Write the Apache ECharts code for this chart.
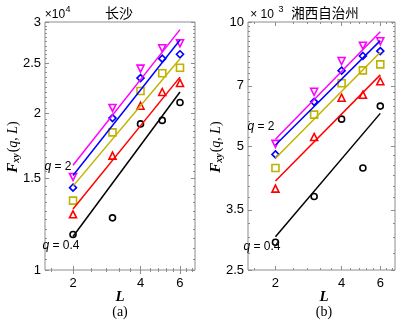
<!DOCTYPE html>
<html>
<head>
<meta charset="utf-8">
<script src="https://cdn.jsdelivr.net/npm/echarts@6/dist/echarts.min.js"></script>
<style>
  html, body { margin: 0; padding: 0; background: #fff; }
  #chart { width: 401px; height: 321px; }
</style>
</head>
<body>
<div id="chart"></div>
<script>
// L 取值
var scales = [2, 3, 4, 5, 6];

// (a) 长沙, 单位 x10^4
var csQ2 = [1.51, 2.05, 2.44, 2.67, 2.73];
var csQ16 = [1.44, 1.96, 2.34, 2.55, 2.60];
var csQ12 = [1.36, 1.84, 2.21, 2.39, 2.45];
var csQ08 = [1.28, 1.66, 2.07, 2.20, 2.29];
var csQ04 = [1.17, 1.26, 1.91, 1.94, 2.10];
// 拟合线 (L=2, L=6)
var csFit = [[1.59, 2.90], [1.52, 2.77], [1.45, 2.55], [1.31, 2.35], [1.16, 2.20]];

// (b) 湘西自治州, 单位 x10^3
var xxQ2 = [5.06, 6.77, 8.04, 8.76, 8.98];
var xxQ16 = [4.77, 6.40, 7.62, 8.27, 8.50];
var xxQ12 = [4.42, 5.96, 7.10, 7.63, 7.89];
var xxQ08 = [3.94, 5.26, 6.55, 6.66, 7.18];
var xxQ04 = [2.92, 3.77, 5.81, 4.42, 6.25];
var xxFit = [[5.19, 9.47], [5.03, 9.01], [4.67, 8.44], [4.11, 7.44], [3.01, 6.00]];

var fitEnds = [2, 6];

// 刻度
var xRange = [1.5, 7];
var xLabels = [2, 4, 6];
var csRange = [1, 3];
var csLabels = [1, 1.5, 2, 2.5, 3];
var xxRange = [2.5, 10];
var xxLabels = [2.5, 3.5, 5, 7, 10];

var colors = ['#ff00ff', '#0000ff', '#bfb300', '#ff0000', '#000000'];
var symbols = ['triangle', 'diamond', 'rect', 'triangle', 'circle'];
var rotates = [180, 0, 0, 0, 0];

function lg(v) { return Math.log(v) / Math.LN10; }
function steps(a, b, s) {
    var out = [];
    for (var v = a; v <= b + 1e-9; v += s) { out.push(lg(Math.round(v * 1000) / 1000)); }
    return out;
}
function fmt(v) { return String(Math.round(Math.pow(10, v) * 100) / 100); }

var panels = [
    { left: 45, width: 150, yr: csRange, yl: csLabels, ym: 0.05, data: [csQ2, csQ16, csQ12, csQ08, csQ04], fit: csFit },
    { left: 248, width: 147, yr: xxRange, yl: xxLabels, ym: 0.25, data: [xxQ2, xxQ16, xxQ12, xxQ08, xxQ04], fit: xxFit }
];

var grids = [], xAxes = [], yAxes = [], series = [];
var tickFont = 'Liberation Sans, Arial';
var gray = '#8c8c8c';

panels.forEach(function (p, gi) {
    grids.push({ left: p.left, top: 22, width: p.width, height: 248, show: true, borderColor: gray, borderWidth: 1 });

    var xMinor = steps(1.6, 6.8, 0.4);
    var yMinor = steps(p.yr[0], p.yr[1], p.ym);
    var xMajor = xLabels.map(lg);
    var yMajor = p.yl.map(lg);

    // x 轴: 下/上, 主/次
    [['bottom', true], ['top', false]].forEach(function (pos) {
        xAxes.push({
            type: 'value', gridIndex: gi, position: pos[0], min: lg(xRange[0]), max: lg(xRange[1]),
            axisLine: { show: false }, splitLine: { show: false },
            axisTick: { inside: true, length: 4, customValues: xMajor, lineStyle: { color: gray } },
            axisLabel: { show: pos[1], customValues: xMajor, formatter: fmt, margin: 7, fontSize: 13, fontFamily: tickFont, color: '#000' }
        });
        xAxes.push({
            type: 'value', gridIndex: gi, position: pos[0], min: lg(xRange[0]), max: lg(xRange[1]),
            axisLine: { show: false }, splitLine: { show: false },
            axisTick: { inside: true, length: 2, customValues: xMinor, lineStyle: { color: gray } },
            axisLabel: { show: false }
        });
    });
    // y 轴: 左/右, 主/次
    [['left', true], ['right', false]].forEach(function (pos) {
        yAxes.push({
            type: 'value', gridIndex: gi, position: pos[0], min: lg(p.yr[0]), max: lg(p.yr[1]),
            axisLine: { show: false }, splitLine: { show: false },
            axisTick: { inside: true, length: 4, customValues: yMajor, lineStyle: { color: gray } },
            axisLabel: { show: pos[1], customValues: yMajor, formatter: fmt, margin: 4, fontSize: 13, fontFamily: tickFont, color: '#000' }
        });
        yAxes.push({
            type: 'value', gridIndex: gi, position: pos[0], min: lg(p.yr[0]), max: lg(p.yr[1]),
            axisLine: { show: false }, splitLine: { show: false },
            axisTick: { inside: true, length: 2, customValues: yMinor, lineStyle: { color: gray } },
            axisLabel: { show: false }
        });
    });

    var xi = gi * 4, yi = gi * 4;
    p.fit.forEach(function (f, k) {
        series.push({
            type: 'line', xAxisIndex: xi, yAxisIndex: yi, silent: true, symbol: 'none',
            lineStyle: { color: colors[k], width: 1.5 },
            data: fitEnds.map(function (L, j) { return [lg(L), lg(f[j])]; })
        });
    });
    p.data.forEach(function (arr, k) {
        series.push({
            type: 'scatter', xAxisIndex: xi, yAxisIndex: yi, symbol: symbols[k], symbolRotate: rotates[k],
            symbolSize: k === 4 ? 6 : 7,
            itemStyle: { color: '#fff', borderColor: colors[k], borderWidth: 1.6, opacity: 1 },
            data: arr.map(function (v, j) { return [lg(scales[j]), lg(v)]; })
        });
    });
});

function txt(x, y, text, font, extra) {
    var s = { x: x, y: y, text: text, font: font, fill: '#000', textAlign: 'center', textVerticalAlign: 'middle' };
    for (var k in extra) { s[k] = extra[k]; }
    return { type: 'text', z: 100, style: s };
}

var sans = 'Liberation Sans, Arial, sans-serif';
var serif = 'Liberation Serif, Times New Roman, serif';
var cjk = '"Noto Sans CJK SC", sans-serif';

var yRich = {
    f: { fontFamily: serif, fontStyle: 'italic', fontWeight: 'bold', fontSize: 15 },
    s: { fontFamily: serif, fontStyle: 'italic', fontWeight: 'bold', fontSize: 10, padding: [7, 1, 0, 0] },
    n: { fontFamily: serif, fontSize: 14 },
    i: { fontFamily: serif, fontStyle: 'italic', fontSize: 14 }
};
function yLabel(x) {
    return {
        type: 'text', z: 100, x: x, y: 147, rotation: Math.PI / 2,
        style: {
            text: '{f|F}{s|xy}{n|(}{i|q}{n|, }{i|L}{n|)}', rich: yRich,
            textAlign: 'center', textVerticalAlign: 'middle', fill: '#000'
        }
    };
}
var qRich = { i: { fontStyle: 'italic', fontSize: 12, fontFamily: sans } };

var graphics = [
    txt(55, 15, '×10', '12px ' + sans),
    txt(68, 10, '4', '9px ' + sans),
    txt(119, 13, '长沙', '14px ' + cjk),
    txt(262, 15, '× 10', '12px ' + sans),
    txt(281, 10, '3', '9px ' + sans),
    txt(325, 13, '湘西自治州', '13.5px ' + cjk),
    txt(58, 167, '', '12px ' + sans, { rich: qRich, text: '{i|q} = 2' }),
    txt(61, 246, '', '12px ' + sans, { rich: qRich, text: '{i|q} = 0.4' }),
    txt(261, 127, '', '12px ' + sans, { rich: qRich, text: '{i|q} = 2' }),
    txt(262, 247, '', '12px ' + sans, { rich: qRich, text: '{i|q} = 0.4' }),
    txt(120, 297, 'L', 'italic bold 15px ' + serif),
    txt(324, 297, 'L', 'italic bold 15px ' + serif),
    txt(120, 312, '(a)', '14px ' + serif),
    txt(324, 312, '(b)', '14px ' + serif),
    yLabel(13),
    yLabel(216)
];

var chart = echarts.init(document.getElementById('chart'));
chart.setOption({
    animation: false,
    backgroundColor: '#fff',
    grid: grids,
    xAxis: xAxes,
    yAxis: yAxes,
    series: series,
    graphic: graphics
});
</script>
</body>
</html>
